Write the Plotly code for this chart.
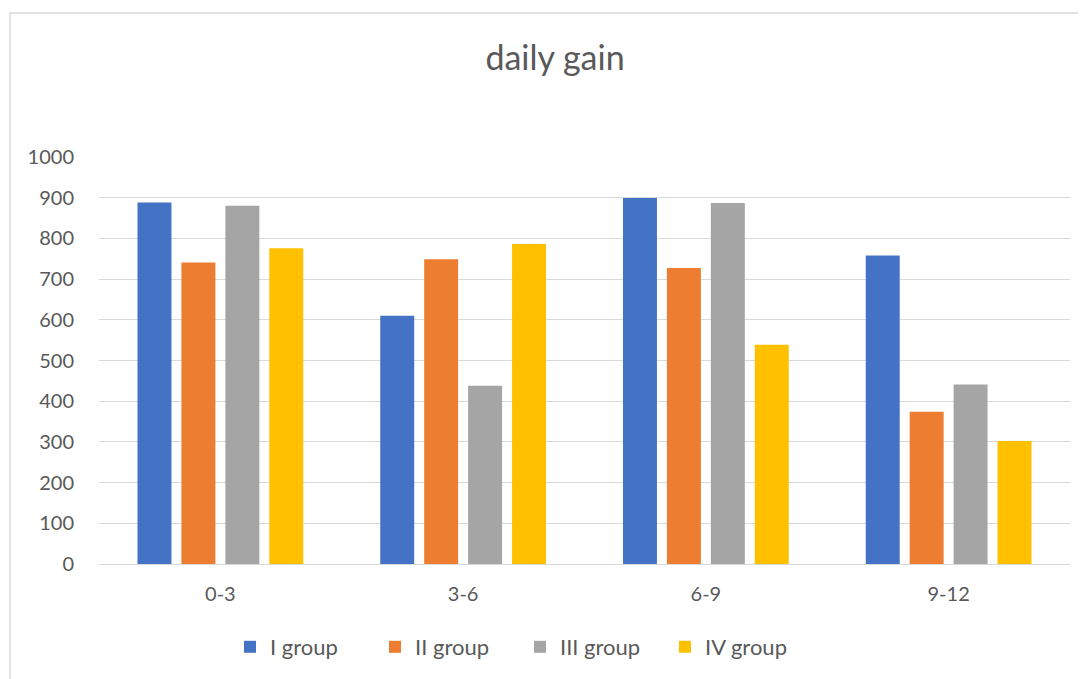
import plotly.graph_objects as go

categories = ["0-3", "3-6", "6-9", "9-12"]
group_names = ["I group", "II group", "III group", "IV group"]
group_i = [888, 610, 899, 758]
group_ii = [741, 749, 727, 374]
group_iii = [880, 438, 887, 441]
group_iv = [776, 786, 539, 302]
colors = ["#4472C4", "#ED7D31", "#A5A5A5", "#FFC000"]
y_ticks = [0, 100, 200, 300, 400, 500, 600, 700, 800, 900, 1000]

series = [group_i, group_ii, group_iii, group_iv]

fig = go.Figure()
for name, vals, col in zip(group_names, series, colors):
    fig.add_trace(go.Bar(x=categories, y=vals, name=name, marker=dict(color=col, line=dict(width=0))))

OFF = 8  # page body margin
W, H = 1086, 679
L = 99 - OFF
T = 157 - OFF
R = W - (1070 - OFF)
B = H - (564 - OFF)
pw = W - L - R
ph = H - T - B

def px(xv):
    return (xv - OFF - L) / pw

def py(yv):
    return (T + ph - (yv - OFF)) / ph

FONT = "Lato, Calibri, sans-serif"
fig.update_layout(
    width=W, height=H,
    margin=dict(l=L, r=R, t=T, b=B),
    paper_bgcolor="white", plot_bgcolor="white",
    font=dict(family=FONT, color="#595959", size=19),
    barmode="group", bargap=0.276, bargroupgap=0.227,
    title=dict(text="daily gain", x=px(555), xref="paper", xanchor="center",
               y=1 - (58 - OFF) / H, yref="container", yanchor="middle",
               font=dict(size=34, color="#595959", family=FONT)),
    legend=dict(orientation="h", x=px(520), xanchor="center", y=py(647),
                yanchor="middle", font=dict(size=22, color="#595959"), itemwidth=30,
                entrywidth=100, entrywidthmode="pixels", traceorder="normal"),
    showlegend=True,
)
fig.update_yaxes(range=[0, 1000], tickvals=y_ticks, showgrid=True, gridcolor="#D9D9D9", gridwidth=1.3,
                 zeroline=False, showline=False, ticks="outside", tickcolor="rgba(0,0,0,0)", ticklen=20,
                 tickfont=dict(size=20, color="#595959"), fixedrange=True)
fig.update_xaxes(showline=True, linecolor="#D9D9D9", linewidth=1.3, ticks="outside",
                 tickcolor="rgba(0,0,0,0)", ticklen=12, tickfont=dict(size=20, color="#595959"))

fig.add_shape(type="rect", xref="paper", yref="paper",
              x0=px(10), x1=px(W + 40),
              y0=py(H + 40), y1=py(13),
              line=dict(color="#D9D9D9", width=1.5), fillcolor="rgba(0,0,0,0)", layer="below")

fig.write_html("out.html")
